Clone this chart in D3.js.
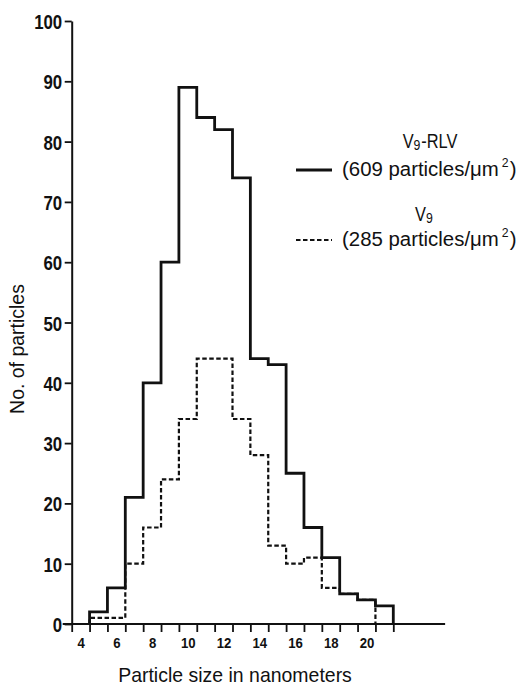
<!DOCTYPE html>
<html>
<head>
<meta charset="utf-8">
<script src="https://cdn.jsdelivr.net/npm/d3@7"></script>
<style>
  html, body { margin: 0; padding: 0; background: #fff; }
  svg { display: block; }
  text { font-family: "Liberation Sans", Arial, sans-serif; fill: #111; }
</style>
</head>
<body>
<svg id="chart" width="517" height="689"></svg>
<script>
// ---- data ----
const binEdges = [4.5, 5.5, 6.5, 7.5, 8.5, 9.5, 10.5, 11.5, 12.5, 13.5, 14.5, 15.5, 16.5, 17.5, 18.5, 19.5, 20.5, 21.5];
const rlvCounts = [2, 6, 21, 40, 60, 89, 84, 82, 74, 44, 43, 25, 16, 11, 5, 4, 3];   // V9-RLV, 609 particles/µm²
const v9Counts  = [1, 1, 10, 16, 24, 34, 44, 44, 34, 28, 13, 10, 11, 6, 5, 4, 0];   // V9, 285 particles/µm²
const yTicks = [0, 10, 20, 30, 40, 50, 60, 70, 80, 90, 100];
const xMinorTicks = [3.5, 4.5, 5.5, 6.5, 7.5, 8.5, 9.5, 10.5, 11.5, 12.5, 13.5, 14.5, 15.5, 16.5, 17.5, 18.5, 19.5, 20.5, 21.5];
const xLabelTicks = [4, 6, 8, 10, 12, 14, 16, 18, 20];

const SX = 0.8;   // condensing of tick digits
const SXT = 0.95; // condensing of titles
const svg = d3.select("#chart");

const x = d3.scaleLinear().domain([3.5, 21.5]).range([71.7, 393.3]);
const y = d3.scaleLinear().domain([0, 100]).range([624, 21]);

const axisColor = "#111";

// y axis
const gy = svg.append("g").attr("transform", `translate(${x(3.5)},0)`)
  .call(d3.axisLeft(y).tickValues(yTicks).tickSize(7).tickPadding(2).tickSizeOuter(0));
gy.select(".domain").attr("stroke", axisColor).attr("stroke-width", 2);
gy.selectAll(".tick line").attr("stroke", axisColor).attr("stroke-width", 1.8);
gy.selectAll(".tick text")
  .attr("font-size", 21).attr("font-weight", "bold").attr("fill", "#111")
  .attr("font-family", '"Liberation Sans", Arial, sans-serif')
  .attr("x", -9.5 / SX).attr("dy", "0.36em")
  .attr("transform", `scale(${SX},1)`);

// x axis: minor ticks at bin edges
const gx = svg.append("g").attr("transform", `translate(0,${y(0)})`)
  .call(d3.axisBottom(x).tickValues(xMinorTicks).tickSize(8).tickFormat("").tickSizeOuter(0));
gx.select(".domain").remove();
gx.selectAll(".tick line").attr("stroke", axisColor).attr("stroke-width", 1.8);

// x axis baseline (extends beyond last tick)
svg.append("line")
  .attr("x1", x(3.5) - 9).attr("x2", x(24.4))
  .attr("y1", y(0)).attr("y2", y(0))
  .attr("stroke", axisColor).attr("stroke-width", 2);

// x labels
const gxl = svg.append("g").attr("transform", `translate(0,${y(0)})`)
  .call(d3.axisBottom(x).tickValues(xLabelTicks).tickSize(0).tickPadding(13).tickFormat(d3.format("d")));
gxl.select(".domain").remove();
gxl.selectAll(".tick text")
  .attr("font-size", 15.5).attr("font-weight", "bold").attr("fill", "#111")
  .attr("font-family", '"Liberation Sans", Arial, sans-serif')
  .attr("transform", `scale(0.85,1)`);

// step outline builder
function stepPoints(counts) {
  const pts = [[binEdges[0], 0]];
  counts.forEach((c, i) => {
    pts.push([binEdges[i], c]);
    pts.push([binEdges[i + 1], c]);
  });
  pts.push([binEdges[counts.length], 0]);
  return pts;
}
const line = d3.line().x(d => x(d[0])).y(d => y(d[1]));

// V9 dashed
svg.append("path")
  .attr("d", line(stepPoints(v9Counts)))
  .attr("fill", "none").attr("stroke", "#111").attr("stroke-width", 2.2)
  .attr("stroke-dasharray", "4.5,2.5");

// V9-RLV solid
svg.append("path")
  .attr("d", line(stepPoints(rlvCounts)))
  .attr("fill", "none").attr("stroke", "#111").attr("stroke-width", 2.8)
  .attr("stroke-linejoin", "miter");

// axis titles
svg.append("text")
  .attr("transform", `translate(235,682) scale(${SXT},1)`)
  .attr("text-anchor", "middle").attr("font-size", 20.5)
  .text("Particle size in nanometers");

svg.append("text")
  .attr("transform", `translate(24,349) rotate(-90) scale(${SXT},1)`)
  .attr("text-anchor", "middle").attr("font-size", 20.5)
  .text("No. of particles");

// legend
const legend = [
  { name: "V", sub: "9", suffix: "-RLV", note: "609", dash: null, width: 2.8, xName: 430, yName: 148, yNote: 176 },
  { name: "V", sub: "9", suffix: "", note: "285", dash: "4.5,2.5", width: 2.2, xName: 424, yName: 221, yNote: 246 }
];
legend.forEach(l => {
  svg.append("line")
    .attr("x1", 296).attr("x2", 332)
    .attr("y1", l.yNote - 6).attr("y2", l.yNote - 6)
    .attr("stroke", "#111").attr("stroke-width", l.width)
    .attr("stroke-dasharray", l.dash);
  const t1 = svg.append("text")
    .attr("transform", `translate(${l.xName},${l.yName}) scale(0.82,1)`)
    .attr("text-anchor", "middle").attr("font-size", 20);
  t1.append("tspan").text(l.name);
  t1.append("tspan").attr("font-size", 15).attr("dy", 2).text(l.sub);
  if (l.suffix) t1.append("tspan").attr("dy", -2).attr("dx", 1).text(l.suffix);
  const t2 = svg.append("text")
    .attr("transform", `translate(342,${l.yNote}) scale(1.02,1)`)
    .attr("font-size", 20);
  t2.append("tspan").text(`(${l.note} particles/\u03BCm`);
  t2.append("tspan").attr("font-size", 12).attr("dy", -9).attr("dx", 3).text("2");
  t2.append("tspan").attr("dy", 9).attr("dx", 1).text(")");
});
</script>
</body>
</html>
